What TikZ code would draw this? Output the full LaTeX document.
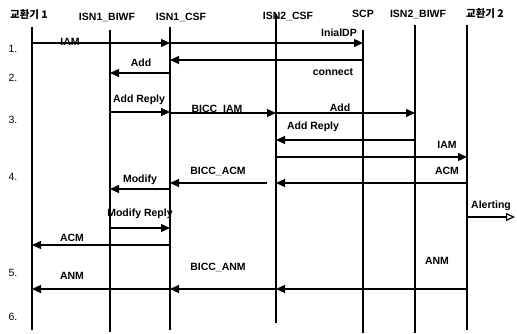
\documentclass[tikz,border=0pt]{standalone}
\usepackage{fontspec}
\setmainfont{Liberation Sans}
\newfontfamily\krfont{Noto Sans CJK KR}
\usetikzlibrary{arrows.meta}

\begin{document}
\begin{tikzpicture}[x=1pt,y=-1pt,font=\fontsize{10.5}{12}\selectfont\bfseries,
    life/.style={line width=1.8pt},
    msg/.style={line width=1.2pt,-{Triangle[length=9pt,width=8pt]}},
    lbl/.style={inner sep=1pt}]
  \useasboundingbox (0,0) rectangle (517,334);

  % lifelines
  \foreach \n/\x/\t/\b in {ex1/32/27/330, biwf1/110/30/332, csf1/170/27/330,
      csf2/276/14/323, scp/363/30/333, biwf2/415/25/333, ex2/467/25/330} {
    \coordinate (\n) at (\x,\t);
    \coordinate (\n-end) at (\x,\b);
    \draw[life] (\n) -- (\n-end);
  }

  % headers
  \node (h-ex1) at (29,15) {\krfont\bfseries 교환기 1};
  \node (h-biwf1) at (107,17) {ISN1\_BIWF};
  \node (h-csf1) at (181,17) {ISN1\_CSF};
  \node (h-csf2) at (288,16) {ISN2\_CSF};
  \node (h-scp) at (363,14) {SCP};
  \node (h-biwf2) at (418,14) {ISN2\_BIWF};
  \node (h-ex2) at (485,14) {\krfont\bfseries 교환기 2};

  % step numbers
  \foreach \s/\y in {1/49, 2/78, 3/120, 4/177, 5/273, 6/317}
    \node[font=\fontsize{10.5}{12}\selectfont] (step\s) at (13,\y) {\s.};

  % 1.
  \draw[msg] (ex1 |- 0,43) -- (csf1 |- 0,43);
  \node[lbl] (m-iam1) at (70,42) {IAM};
  \draw[msg] (csf1 |- 0,43) -- (scp |- 0,43);
  \node[lbl] (m-idp) at (339,33) {InialDP};

  % 2.
  \draw[msg] (scp |- 0,60) -- (csf1 |- 0,60);
  \node[lbl] (m-con) at (333,72) {connect};
  \draw[msg] (csf1 |- 0,73) -- (biwf1 |- 0,73);
  \node[lbl] (m-add1) at (141,63) {Add};

  % 3.
  \draw[msg] (biwf1 |- 0,112) -- (csf1 |- 0,112);
  \node[lbl] (m-rep1) at (139,100) {Add Reply};
  \draw[msg] (csf1 |- 0,113) -- (csf2 |- 0,113);
  \node[lbl] (m-biam) at (217,109) {BICC\_IAM};
  \draw[msg] (csf2 |- 0,113) -- (biwf2 |- 0,113);
  \node[lbl] (m-add2) at (340,108) {Add};
  \draw[msg] (biwf2 |- 0,140) -- (csf2 |- 0,140);
  \node[lbl] (m-rep2) at (313,127) {Add Reply};
  \draw[msg] (csf2 |- 0,157) -- (ex2 |- 0,157);
  \node[lbl] (m-iam2) at (447,145) {IAM};

  % 4.
  \draw[msg] (ex2 |- 0,183) -- (csf2 |- 0,183);
  \node[lbl] (m-acm2) at (447,171) {ACM};
  \draw[msg,shorten <=9pt] (csf2 |- 0,183) -- (csf1 |- 0,183);
  \node[lbl] (m-bacm) at (218,171) {BICC\_ACM};
  \draw[msg] (csf1 |- 0,189) -- (biwf1 |- 0,189);
  \node[lbl] (m-mod) at (140,180) {Modify};
  \coordinate (alert-end) at (515,217);
  \draw[line width=1.2pt,-{Triangle[open,length=9pt,width=8pt]}] (ex2 |- alert-end) -- (alert-end);
  \node[lbl] (m-alert) at (491,206) {Alerting};
  \draw[msg] (biwf1 |- 0,228) -- (csf1 |- 0,228);
  \node[lbl] (m-mrep) at (140,214) {Modify Reply};
  \draw[msg] (csf1 |- 0,245) -- (ex1 |- 0,245);
  \node[lbl] (m-acm1) at (72,238) {ACM};

  % 5.
  \draw[msg] (ex2 |- 0,289) -- (csf2 |- 0,289);
  \node[lbl] (m-anm2) at (437,261) {ANM};
  \draw[msg] (csf2 |- 0,289) -- (csf1 |- 0,289);
  \node[lbl] (m-banm) at (218,267) {BICC\_ANM};
  \draw[msg] (csf1 |- 0,289) -- (ex1 |- 0,289);
  \node[lbl] (m-anm1) at (72,276) {ANM};
\end{tikzpicture}
\end{document}
